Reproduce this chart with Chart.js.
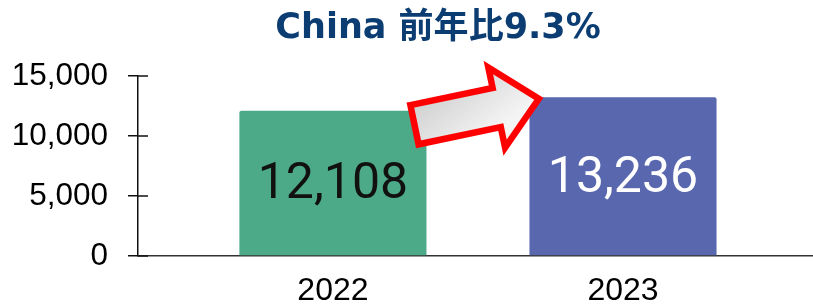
<!DOCTYPE html>
<html>
<head>
<meta charset="utf-8">
<script src="https://cdn.jsdelivr.net/npm/chart.js@4.4.1/dist/chart.umd.min.js"></script>
<style>
  html, body { margin: 0; padding: 0; background: #fff; }
  #wrap { width: 813px; height: 307px; }
</style>
</head>
<body>
<div id="wrap"><canvas id="chart"></canvas></div>
<script>
var years = [2022, 2023]
var sales = [12108, 13236]
var barColors = ['#4daa89', '#5867ae']
var labelColors = ['#111111', '#ffffff']
var yTicks = [0, 5000, 10000, 15000]
var titleText = 'China 前年比9.3%'

// title, drawn a bit right of canvas centre like the original
var titlePlugin = {
  id: 'titleText',
  afterDraw: function(chart) {
    var ctx = chart.ctx
    ctx.save()
    ctx.font = "bold 35px 'DejaVu Sans', 'Noto Sans CJK JP'"
    ctx.fillStyle = '#0c3d72'
    ctx.textAlign = 'center'
    ctx.textBaseline = 'alphabetic'
    ctx.fillText(titleText, 438, 38)
    ctx.restore()
  }
}

// small tick marks on the inner side of the y axis
var innerTicks = {
  id: 'innerTicks',
  afterDraw: function(chart) {
    var ctx = chart.ctx, y = chart.scales.y
    ctx.save()
    ctx.strokeStyle = '#111'
    ctx.lineWidth = 1.5
    y.ticks.forEach(function(t) {
      var py = y.getPixelForValue(t.value)
      ctx.beginPath()
      ctx.moveTo(y.right, py)
      ctx.lineTo(y.right + 10, py)
      ctx.stroke()
    })
    ctx.restore()
  }
}

// growth arrow from 2022 bar to 2023 bar
var arrowPlugin = {
  id: 'arrow',
  afterDatasetsDraw: function(chart) {
    var ctx = chart.ctx
    var b0 = chart.getDatasetMeta(0).data[0]
    var ox = b0.x + b0.width / 2 - 12, oy = b0.y + 14
    var ang = -11.8 * Math.PI / 180
    var pts = [[0, -20], [84, -20], [84, -41], [127, 0], [84, 41], [84, 20], [0, 20]]
    ctx.save()
    ctx.translate(ox, oy)
    ctx.rotate(ang)
    var g = ctx.createLinearGradient(0, -41, 40, 41)
    g.addColorStop(0, '#c6c6c6')
    g.addColorStop(1, '#f4f4f4')
    ctx.beginPath()
    pts.forEach(function(p, i) { if (i) ctx.lineTo(p[0], p[1]); else ctx.moveTo(p[0], p[1]) })
    ctx.closePath()
    ctx.fillStyle = g
    ctx.fill()
    ctx.lineWidth = 6.5
    ctx.lineJoin = 'miter'
    ctx.strokeStyle = '#ff0000'
    ctx.stroke()
    ctx.restore()
  }
}

// values written inside the bars
var valueLabels = {
  id: 'valueLabels',
  afterDatasetsDraw: function(chart) {
    var ctx = chart.ctx
    ctx.save()
    ctx.font = '50px Roboto'
    ctx.textAlign = 'center'
    ctx.textBaseline = 'middle'
    chart.getDatasetMeta(0).data.forEach(function(bar, i) {
      ctx.fillStyle = labelColors[i]
      ctx.fillText(sales[i].toLocaleString('en-US'), bar.x, (bar.y + bar.base) / 2 + 3)
    })
    ctx.restore()
  }
}

new Chart(document.getElementById('chart'), {
  type: 'bar',
  data: {
    labels: years,
    datasets: [{
      data: sales,
      backgroundColor: barColors,
      borderRadius: { topLeft: 2, topRight: 2 },
      borderSkipped: 'bottom',
      barPercentage: 0.645,
      categoryPercentage: 1
    }]
  },
  options: {
    responsive: true,
    maintainAspectRatio: false,
    animation: false,
    layout: { padding: { top: 76, left: 11, right: 0, bottom: 0 } },
    plugins: {
      legend: { display: false },
      tooltip: { enabled: false },
      title: { display: false }
    },
    scales: {
      x: {
        type: 'linear',
        offset: false,
        min: years[0] - 0.672,
        max: years[1] + 0.655,
        afterBuildTicks: function(axis) { axis.ticks = years.map(function(v) { return { value: v } }) },
        afterFit: function(axis) {
          axis.height = 51
          axis.paddingLeft = 0
          axis.paddingRight = 0
        },
        grid: { display: false, drawTicks: false },
        border: { display: true, color: '#333', width: 1.5 },
        ticks: {
          font: { family: 'Liberation Sans', size: 32, lineHeight: 1 },
          color: '#000',
          padding: 19,
          maxRotation: 0,
          autoSkip: false,
          callback: function(v) { return String(v) }
        }
      },
      y: {
        min: 0,
        max: 15000,
        afterBuildTicks: function(axis) { axis.ticks = yTicks.map(function(v) { return { value: v } }) },
        afterFit: function(axis) {
          axis.width = 127
          axis.paddingTop = 0
          axis.paddingBottom = 0
        },
        grid: { drawOnChartArea: false, tickLength: 10, color: '#111', lineWidth: 1.5 },
        border: { color: '#111', width: 1.5 },
        ticks: {
          font: { family: 'Liberation Sans', size: 31.5 },
          color: '#000',
          padding: 20,
          callback: function(v) { return v.toLocaleString('en-US') }
        }
      }
    }
  },
  plugins: [arrowPlugin, valueLabels, innerTicks, titlePlugin]
})
</script>
</body>
</html>
